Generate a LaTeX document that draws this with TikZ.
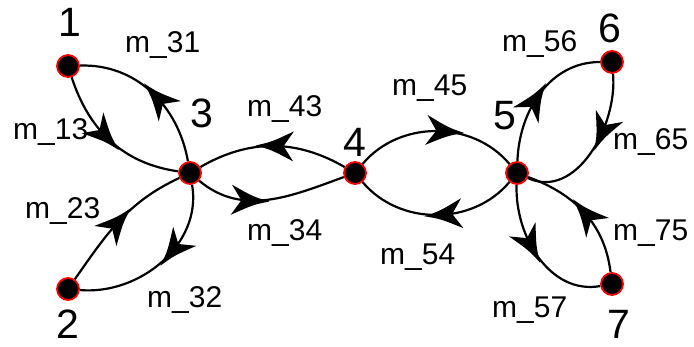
\documentclass[tikz,border=0pt]{standalone}
\usepackage{fontspec}
\setmainfont{Liberation Sans}
\usetikzlibrary{decorations.markings}
\tikzset{
  vtx/.style={circle,fill=black,draw=red,line width=1.8pt,minimum size=22pt,inner sep=0pt},
  num/.style={anchor=base,inner sep=0pt,font=\fontsize{41}{45}\selectfont},
  lab/.style={anchor=base west,inner sep=0pt,font=\fontsize{30}{34}\selectfont},
  edge/.style={line width=2.2pt},
  arr/.style={postaction={decorate,decoration={markings,
     mark=at position #1 with {\fill[black] (20pt,0pt) .. controls (4pt,4pt) .. (-18pt,15pt) -- (-8pt,0pt) -- (-18pt,-15pt) .. controls (4pt,-4pt) .. (20pt,0pt) -- cycle;}}}}
}
\begin{document}
\begin{tikzpicture}[x=1pt,y=1pt]
\useasboundingbox (0,0) rectangle (694,346);
\node[vtx] (n1) at (68,280) {};
\node[vtx] (n2) at (68,57) {};
\node[vtx] (n3) at (190,173) {};
\node[vtx] (n4) at (355,173) {};
\node[vtx] (n5) at (517,173) {};
\node[vtx] (n6) at (612,284) {};
\node[vtx] (n7) at (612,62) {};
\node[num] (t1) at (70,309) {1};
\node[num] (t2) at (68,8) {2};
\node[num] (t3) at (202,218) {3};
\node[num] (t4) at (355,189) {4};
\node[num] (t5) at (505,216) {5};
\node[num] (t6) at (610,303) {6};
\node[num] (t7) at (619,8) {7};
\node[lab] (l31) at (125,293) {m\_31};
\node[lab] (l13) at (13,206) {m\_13};
\node[lab] (l23) at (25,128) {m\_23};
\node[lab] (l32) at (147,39) {m\_32};
\node[lab] (l43) at (247,229) {m\_43};
\node[lab] (l34) at (247,106) {m\_34};
\node[lab] (l45) at (392,250) {m\_45};
\node[lab] (l54) at (380,82) {m\_54};
\node[lab] (l56) at (502,294) {m\_56};
\node[lab] (l65) at (613,196) {m\_65};
\node[lab] (l75) at (613,106) {m\_75};
\node[lab] (l57) at (492,29) {m\_57};
\draw[edge,arr=0.45] (n1) to[out=-72,in=172] (n3);
\draw[edge,arr=0.45] (n3) to[out=100,in=2] (n1);
\draw[edge,arr=0.48] (n2) to[out=55,in=205] (n3);
\draw[edge,arr=0.4] (n3) to[out=-80,in=-5] (n2);
\draw[edge,arr=0.36] (n3) to[out=-40,in=200] (n4);
\draw[edge,arr=0.48] (n4) to[out=150,in=30] (n3);
\draw[edge,arr=0.55] (n4) to[out=50,in=130] (n5);
\draw[edge,arr=0.45] (n5) to[out=-130,in=-50] (n4);
\draw[edge,arr=0.45] (n5) to[out=88,in=180] (n6);
\draw[edge,arr=0.38] (n6) to[out=-85,in=-25] (n5);
\draw[edge,arr=0.42] (n5) to[out=-92,in=190] (n7);
\draw[edge,arr=0.48] (n7) to[out=97,in=-20] (n5);
\end{tikzpicture}
\end{document}
